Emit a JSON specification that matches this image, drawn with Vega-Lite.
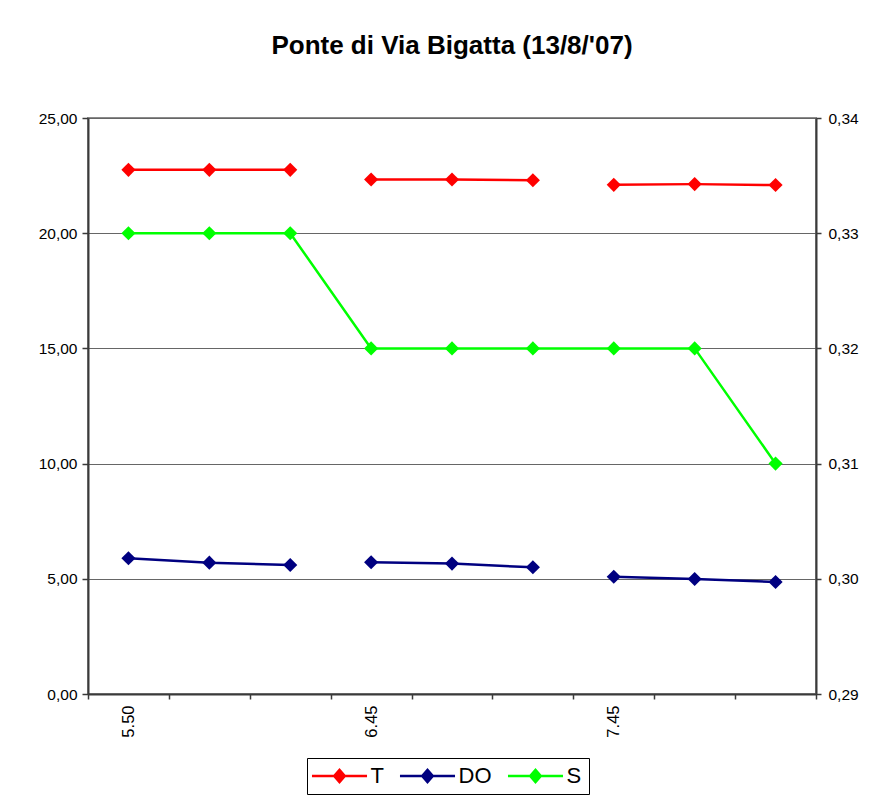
{
  "$schema": "https://vega.github.io/schema/vega-lite/v6.json",
  "width": 728,
  "height": 576,
  "autosize": {"type": "none"},
  "padding": {"left": 88, "top": 118, "right": 62, "bottom": 116},
  "background": "white",
  "title": {
    "text": "Ponte di Via Bigatta (13/8/'07)",
    "font": "Liberation Sans",
    "fontSize": 26,
    "fontWeight": "bold",
    "color": "black",
    "anchor": "middle",
    "frame": "group",
    "offset": 52
  },
  "config": {
    "view": {"stroke": "#8a8a8a", "strokeWidth": 2},
    "axis": {
      "labelFont": "Liberation Sans",
      "labelFontSize": 15.5,
      "labelColor": "black",
      "domainColor": "#3a3a3a",
      "domainWidth": 2,
      "tickColor": "#3a3a3a",
      "tickWidth": 1.5,
      "tickSize": 5,
      "title": null
    }
  },
  "data": {
    "values": [
      {"n": 1, "series": "T", "seg": "a", "value": 22.75},
      {"n": 2, "series": "T", "seg": "a", "value": 22.75},
      {"n": 3, "series": "T", "seg": "a", "value": 22.75},
      {"n": 4, "series": "T", "seg": "b", "value": 22.33},
      {"n": 5, "series": "T", "seg": "b", "value": 22.33},
      {"n": 6, "series": "T", "seg": "b", "value": 22.3},
      {"n": 7, "series": "T", "seg": "c", "value": 22.1},
      {"n": 8, "series": "T", "seg": "c", "value": 22.13},
      {"n": 9, "series": "T", "seg": "c", "value": 22.09},
      {"n": 1, "series": "DO", "seg": "a", "value": 5.89},
      {"n": 2, "series": "DO", "seg": "a", "value": 5.7},
      {"n": 3, "series": "DO", "seg": "a", "value": 5.6},
      {"n": 4, "series": "DO", "seg": "b", "value": 5.72},
      {"n": 5, "series": "DO", "seg": "b", "value": 5.66},
      {"n": 6, "series": "DO", "seg": "b", "value": 5.5},
      {"n": 7, "series": "DO", "seg": "c", "value": 5.09},
      {"n": 8, "series": "DO", "seg": "c", "value": 4.99},
      {"n": 9, "series": "DO", "seg": "c", "value": 4.86},
      {"n": 1, "series": "S", "seg": "a", "value": 0.33},
      {"n": 2, "series": "S", "seg": "a", "value": 0.33},
      {"n": 3, "series": "S", "seg": "a", "value": 0.33},
      {"n": 4, "series": "S", "seg": "a", "value": 0.32},
      {"n": 5, "series": "S", "seg": "a", "value": 0.32},
      {"n": 6, "series": "S", "seg": "a", "value": 0.32},
      {"n": 7, "series": "S", "seg": "a", "value": 0.32},
      {"n": 8, "series": "S", "seg": "a", "value": 0.32},
      {"n": 9, "series": "S", "seg": "a", "value": 0.31}
    ]
  },
  "encoding": {
    "x": {
      "field": "n",
      "type": "ordinal",
      "scale": {"paddingInner": 0, "paddingOuter": 0},
      "axis": {
        "labelAngle": -90,
        "labelPadding": 6,
        "labelFontSize": 16.5,
        "tickBand": "extent",
        "labelExpr": "datum.value == 1 ? '5.50' : datum.value == 4 ? '6.45' : datum.value == 7 ? '7.45' : ''"
      }
    },
    "color": {
      "field": "series",
      "type": "nominal",
      "scale": {"domain": ["T", "DO", "S"], "range": ["#ff0000", "#000080", "#00ff00"]},
      "legend": {
        "title": null,
        "orient": "none",
        "legendX": 219,
        "legendY": 640,
        "direction": "horizontal",
        "strokeColor": "black",
        "fillColor": "white",
        "padding": 7,
        "columnPadding": 15,
        "symbolSize": 256,
        "symbolOffset": 14.5,
        "labelOffset": 20,
        "labelFont": "Liberation Sans",
        "labelFontSize": 22,
        "labelColor": "black",
        "symbolType": "M-3.44,-0.17H3.44V0.17H-3.44ZM-0.87,0L0,-1L0.87,0L0,1Z",
        "encode": {
          "symbols": {
            "update": {
              "fill": {"scale": "color", "field": "value"},
              "stroke": {"scale": "color", "field": "value"},
              "strokeWidth": {"value": 0},
              "opacity": {"value": 1}
            }
          }
        }
      }
    }
  },
  "layer": [
    {
      "transform": [{"filter": "datum.series != 'S'"}],
      "encoding": {
        "y": {
          "field": "value",
          "type": "quantitative",
          "scale": {"domain": [0, 25], "nice": false, "zero": false},
          "axis": {
            "orient": "left",
            "values": [0, 5, 10, 15, 20, 25],
            "labelPadding": 5,
            "tickSize": 6,
            "grid": true,
            "gridColor": "#666666",
            "gridWidth": 1,
            "labelExpr": "replace(format(datum.value, '.2f'), '.', ',')"
          }
        },
        "detail": {"field": "seg"}
      },
      "layer": [
        {"mark": {"type": "line", "strokeWidth": 2.5}},
        {"mark": {"type": "point", "shape": "diamond", "filled": true, "size": 200, "opacity": 1}}
      ]
    },
    {
      "transform": [{"filter": "datum.series == 'S'"}],
      "encoding": {
        "y": {
          "field": "value",
          "type": "quantitative",
          "scale": {"domain": [0.29, 0.34], "nice": false, "zero": false},
          "axis": {
            "orient": "right",
            "values": [0.29, 0.3, 0.31, 0.32, 0.33, 0.34],
            "labelPadding": 7,
            "grid": false,
            "labelExpr": "replace(format(datum.value, '.2f'), '.', ',')"
          }
        }
      },
      "layer": [
        {"mark": {"type": "line", "strokeWidth": 2.5}},
        {"mark": {"type": "point", "shape": "diamond", "filled": true, "size": 200, "opacity": 1}}
      ]
    }
  ],
  "resolve": {"scale": {"y": "independent"}}
}
